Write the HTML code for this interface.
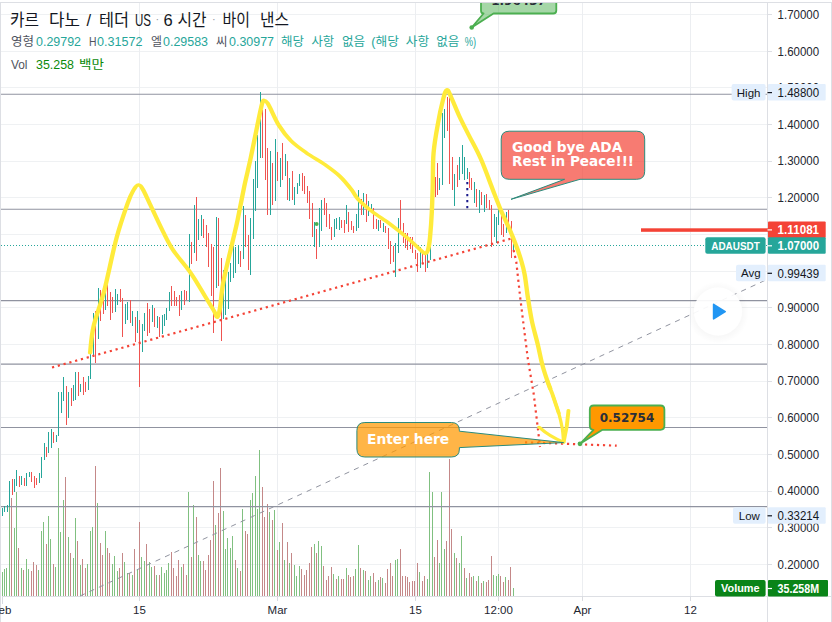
<!DOCTYPE html>
<html lang="ko"><head><meta charset="utf-8"><title>ADAUSDT chart</title>
<style>
html,body{margin:0;padding:0;background:#fff;}
body{width:832px;height:622px;overflow:hidden;position:relative;font-family:"Liberation Sans","Noto Sans CJK KR",sans-serif;}
svg{position:absolute;left:0;top:0;display:block}
.ax{font-family:"Liberation Sans","Noto Sans CJK KR",sans-serif;font-size:11.5px;fill:#23262f}
.lb{font-family:"Liberation Sans","Noto Sans CJK KR",sans-serif;font-size:11.5px}
.cb{font-family:"DejaVu Sans","Liberation Sans",sans-serif;font-weight:bold}
</style></head><body>
<svg width="832" height="622" viewBox="0 0 832 622">
<rect x="0" y="0" width="832" height="622" fill="#ffffff"/>
<g stroke="#eff1f3" stroke-width="1" shape-rendering="crispEdges">
<line x1="1" y1="14.5" x2="767" y2="14.5"/>
<line x1="1" y1="51.5" x2="767" y2="51.5"/>
<line x1="1" y1="87.5" x2="767" y2="87.5"/>
<line x1="1" y1="124.5" x2="767" y2="124.5"/>
<line x1="1" y1="161.5" x2="767" y2="161.5"/>
<line x1="1" y1="197.5" x2="767" y2="197.5"/>
<line x1="1" y1="234.5" x2="767" y2="234.5"/>
<line x1="1" y1="271.5" x2="767" y2="271.5"/>
<line x1="1" y1="307.5" x2="767" y2="307.5"/>
<line x1="1" y1="344.5" x2="767" y2="344.5"/>
<line x1="1" y1="381.5" x2="767" y2="381.5"/>
<line x1="1" y1="417.5" x2="767" y2="417.5"/>
<line x1="1" y1="454.5" x2="767" y2="454.5"/>
<line x1="1" y1="491.5" x2="767" y2="491.5"/>
<line x1="1" y1="527.5" x2="767" y2="527.5"/>
<line x1="1" y1="564.5" x2="767" y2="564.5"/>
<line x1="139.5" y1="2" x2="139.5" y2="596" stroke="#eceef1"/>
<line x1="277.5" y1="2" x2="277.5" y2="596" stroke="#eceef1"/>
<line x1="415.5" y1="2" x2="415.5" y2="596" stroke="#eceef1"/>
<line x1="498.5" y1="2" x2="498.5" y2="596" stroke="#eceef1"/>
<line x1="582.5" y1="2" x2="582.5" y2="596" stroke="#eceef1"/>
<line x1="690.5" y1="2" x2="690.5" y2="596" stroke="#eceef1"/>
</g>
<g stroke="#dddfe4" stroke-width="1" shape-rendering="crispEdges" fill="none">
<line x1="0" y1="2.5" x2="832" y2="2.5"/>
<line x1="0.5" y1="2" x2="0.5" y2="622"/>
<line x1="831.5" y1="2" x2="831.5" y2="622"/>
<line x1="767.5" y1="2" x2="767.5" y2="622"/>
<line x1="2" y1="596.5" x2="832" y2="596.5"/>
<line x1="768" y1="14.5" x2="772" y2="14.5"/>
<line x1="768" y1="51.5" x2="772" y2="51.5"/>
<line x1="768" y1="87.5" x2="772" y2="87.5"/>
<line x1="768" y1="124.5" x2="772" y2="124.5"/>
<line x1="768" y1="161.5" x2="772" y2="161.5"/>
<line x1="768" y1="197.5" x2="772" y2="197.5"/>
<line x1="768" y1="234.5" x2="772" y2="234.5"/>
<line x1="768" y1="271.5" x2="772" y2="271.5"/>
<line x1="768" y1="307.5" x2="772" y2="307.5"/>
<line x1="768" y1="344.5" x2="772" y2="344.5"/>
<line x1="768" y1="381.5" x2="772" y2="381.5"/>
<line x1="768" y1="417.5" x2="772" y2="417.5"/>
<line x1="768" y1="454.5" x2="772" y2="454.5"/>
<line x1="768" y1="491.5" x2="772" y2="491.5"/>
<line x1="768" y1="527.5" x2="772" y2="527.5"/>
<line x1="768" y1="564.5" x2="772" y2="564.5"/>
</g>
<g shape-rendering="crispEdges">
<rect x="2" y="572" width="1" height="24" fill="#80c080"/>
<rect x="4" y="569" width="1" height="27" fill="#80c080"/>
<rect x="6" y="568" width="1" height="28" fill="#80c080"/>
<rect x="9" y="495" width="1" height="101" fill="#80c080"/>
<rect x="11" y="498" width="1" height="98" fill="#c48888"/>
<rect x="14" y="528" width="1" height="68" fill="#80c080"/>
<rect x="16" y="492" width="1" height="104" fill="#80c080"/>
<rect x="18" y="548" width="1" height="48" fill="#c48888"/>
<rect x="21" y="568" width="1" height="28" fill="#80c080"/>
<rect x="23" y="570" width="1" height="26" fill="#c48888"/>
<rect x="26" y="559" width="1" height="37" fill="#80c080"/>
<rect x="28" y="569" width="1" height="27" fill="#80c080"/>
<rect x="31" y="571" width="1" height="25" fill="#c48888"/>
<rect x="33" y="562" width="1" height="34" fill="#c48888"/>
<rect x="36" y="565" width="1" height="31" fill="#c48888"/>
<rect x="38" y="570" width="1" height="26" fill="#80c080"/>
<rect x="41" y="531" width="1" height="65" fill="#80c080"/>
<rect x="43" y="522" width="1" height="74" fill="#80c080"/>
<rect x="46" y="544" width="1" height="52" fill="#c48888"/>
<rect x="48" y="516" width="1" height="80" fill="#80c080"/>
<rect x="50" y="539" width="1" height="57" fill="#80c080"/>
<rect x="53" y="564" width="1" height="32" fill="#c48888"/>
<rect x="55" y="567" width="1" height="29" fill="#80c080"/>
<rect x="58" y="448" width="1" height="148" fill="#80c080"/>
<rect x="60" y="532" width="1" height="64" fill="#80c080"/>
<rect x="63" y="500" width="1" height="96" fill="#80c080"/>
<rect x="65" y="477" width="1" height="119" fill="#c48888"/>
<rect x="68" y="537" width="1" height="59" fill="#80c080"/>
<rect x="70" y="553" width="1" height="43" fill="#c48888"/>
<rect x="73" y="558" width="1" height="38" fill="#80c080"/>
<rect x="75" y="518" width="1" height="78" fill="#80c080"/>
<rect x="77" y="541" width="1" height="55" fill="#c48888"/>
<rect x="80" y="565" width="1" height="31" fill="#80c080"/>
<rect x="82" y="559" width="1" height="37" fill="#c48888"/>
<rect x="85" y="568" width="1" height="28" fill="#c48888"/>
<rect x="87" y="564" width="1" height="32" fill="#80c080"/>
<rect x="90" y="531" width="1" height="65" fill="#80c080"/>
<rect x="92" y="527" width="1" height="69" fill="#80c080"/>
<rect x="95" y="466" width="1" height="130" fill="#c48888"/>
<rect x="97" y="503" width="1" height="93" fill="#80c080"/>
<rect x="100" y="543" width="1" height="53" fill="#c48888"/>
<rect x="102" y="555" width="1" height="41" fill="#c48888"/>
<rect x="105" y="531" width="1" height="65" fill="#80c080"/>
<rect x="107" y="548" width="1" height="48" fill="#c48888"/>
<rect x="109" y="553" width="1" height="43" fill="#c48888"/>
<rect x="112" y="564" width="1" height="32" fill="#80c080"/>
<rect x="114" y="556" width="1" height="40" fill="#80c080"/>
<rect x="117" y="571" width="1" height="25" fill="#80c080"/>
<rect x="119" y="568" width="1" height="28" fill="#c48888"/>
<rect x="122" y="553" width="1" height="43" fill="#c48888"/>
<rect x="124" y="562" width="1" height="34" fill="#80c080"/>
<rect x="127" y="573" width="1" height="23" fill="#80c080"/>
<rect x="129" y="573" width="1" height="23" fill="#c48888"/>
<rect x="132" y="575" width="1" height="21" fill="#80c080"/>
<rect x="134" y="549" width="1" height="47" fill="#c48888"/>
<rect x="137" y="570" width="1" height="26" fill="#80c080"/>
<rect x="139" y="522" width="1" height="74" fill="#c48888"/>
<rect x="141" y="557" width="1" height="39" fill="#80c080"/>
<rect x="144" y="561" width="1" height="35" fill="#80c080"/>
<rect x="146" y="544" width="1" height="52" fill="#c48888"/>
<rect x="149" y="562" width="1" height="34" fill="#80c080"/>
<rect x="151" y="567" width="1" height="29" fill="#80c080"/>
<rect x="154" y="566" width="1" height="30" fill="#c48888"/>
<rect x="156" y="575" width="1" height="21" fill="#80c080"/>
<rect x="159" y="575" width="1" height="21" fill="#c48888"/>
<rect x="161" y="567" width="1" height="29" fill="#80c080"/>
<rect x="164" y="573" width="1" height="23" fill="#80c080"/>
<rect x="166" y="570" width="1" height="26" fill="#80c080"/>
<rect x="168" y="563" width="1" height="33" fill="#80c080"/>
<rect x="171" y="552" width="1" height="44" fill="#c48888"/>
<rect x="173" y="568" width="1" height="28" fill="#c48888"/>
<rect x="176" y="576" width="1" height="20" fill="#c48888"/>
<rect x="178" y="560" width="1" height="36" fill="#c48888"/>
<rect x="181" y="567" width="1" height="29" fill="#80c080"/>
<rect x="183" y="564" width="1" height="32" fill="#c48888"/>
<rect x="186" y="575" width="1" height="21" fill="#c48888"/>
<rect x="188" y="492" width="1" height="104" fill="#80c080"/>
<rect x="191" y="557" width="1" height="39" fill="#c48888"/>
<rect x="193" y="505" width="1" height="91" fill="#80c080"/>
<rect x="196" y="517" width="1" height="79" fill="#c48888"/>
<rect x="198" y="555" width="1" height="41" fill="#80c080"/>
<rect x="200" y="561" width="1" height="35" fill="#80c080"/>
<rect x="203" y="561" width="1" height="35" fill="#c48888"/>
<rect x="205" y="570" width="1" height="26" fill="#c48888"/>
<rect x="208" y="555" width="1" height="41" fill="#c48888"/>
<rect x="210" y="540" width="1" height="56" fill="#c48888"/>
<rect x="213" y="481" width="1" height="115" fill="#c48888"/>
<rect x="215" y="525" width="1" height="71" fill="#80c080"/>
<rect x="218" y="513" width="1" height="83" fill="#c48888"/>
<rect x="220" y="468" width="1" height="128" fill="#c48888"/>
<rect x="223" y="511" width="1" height="85" fill="#80c080"/>
<rect x="225" y="549" width="1" height="47" fill="#80c080"/>
<rect x="227" y="538" width="1" height="58" fill="#80c080"/>
<rect x="230" y="548" width="1" height="48" fill="#80c080"/>
<rect x="232" y="536" width="1" height="60" fill="#80c080"/>
<rect x="235" y="560" width="1" height="36" fill="#c48888"/>
<rect x="237" y="568" width="1" height="28" fill="#80c080"/>
<rect x="240" y="571" width="1" height="25" fill="#c48888"/>
<rect x="242" y="509" width="1" height="87" fill="#80c080"/>
<rect x="245" y="531" width="1" height="65" fill="#c48888"/>
<rect x="247" y="534" width="1" height="62" fill="#c48888"/>
<rect x="250" y="500" width="1" height="96" fill="#80c080"/>
<rect x="252" y="493" width="1" height="103" fill="#80c080"/>
<rect x="255" y="476" width="1" height="120" fill="#80c080"/>
<rect x="257" y="509" width="1" height="87" fill="#80c080"/>
<rect x="259" y="450" width="1" height="146" fill="#80c080"/>
<rect x="262" y="487" width="1" height="109" fill="#c48888"/>
<rect x="264" y="517" width="1" height="79" fill="#c48888"/>
<rect x="267" y="504" width="1" height="92" fill="#c48888"/>
<rect x="269" y="512" width="1" height="84" fill="#80c080"/>
<rect x="272" y="520" width="1" height="76" fill="#c48888"/>
<rect x="274" y="510" width="1" height="86" fill="#80c080"/>
<rect x="277" y="550" width="1" height="46" fill="#c48888"/>
<rect x="279" y="542" width="1" height="54" fill="#80c080"/>
<rect x="282" y="523" width="1" height="73" fill="#c48888"/>
<rect x="284" y="560" width="1" height="36" fill="#80c080"/>
<rect x="287" y="542" width="1" height="54" fill="#c48888"/>
<rect x="289" y="563" width="1" height="33" fill="#80c080"/>
<rect x="291" y="553" width="1" height="43" fill="#c48888"/>
<rect x="294" y="565" width="1" height="31" fill="#80c080"/>
<rect x="296" y="576" width="1" height="20" fill="#80c080"/>
<rect x="299" y="566" width="1" height="30" fill="#80c080"/>
<rect x="301" y="569" width="1" height="27" fill="#c48888"/>
<rect x="304" y="575" width="1" height="21" fill="#c48888"/>
<rect x="306" y="570" width="1" height="26" fill="#c48888"/>
<rect x="309" y="563" width="1" height="33" fill="#c48888"/>
<rect x="311" y="547" width="1" height="49" fill="#c48888"/>
<rect x="314" y="544" width="1" height="52" fill="#80c080"/>
<rect x="316" y="553" width="1" height="43" fill="#c48888"/>
<rect x="318" y="541" width="1" height="55" fill="#80c080"/>
<rect x="321" y="546" width="1" height="50" fill="#80c080"/>
<rect x="323" y="566" width="1" height="30" fill="#c48888"/>
<rect x="326" y="580" width="1" height="16" fill="#c48888"/>
<rect x="328" y="576" width="1" height="20" fill="#c48888"/>
<rect x="331" y="567" width="1" height="29" fill="#c48888"/>
<rect x="333" y="574" width="1" height="22" fill="#80c080"/>
<rect x="336" y="579" width="1" height="17" fill="#c48888"/>
<rect x="338" y="576" width="1" height="20" fill="#80c080"/>
<rect x="341" y="579" width="1" height="17" fill="#c48888"/>
<rect x="343" y="579" width="1" height="17" fill="#c48888"/>
<rect x="346" y="568" width="1" height="28" fill="#80c080"/>
<rect x="348" y="575" width="1" height="21" fill="#c48888"/>
<rect x="350" y="577" width="1" height="19" fill="#c48888"/>
<rect x="353" y="576" width="1" height="20" fill="#c48888"/>
<rect x="355" y="569" width="1" height="27" fill="#80c080"/>
<rect x="358" y="545" width="1" height="51" fill="#80c080"/>
<rect x="360" y="568" width="1" height="28" fill="#c48888"/>
<rect x="363" y="570" width="1" height="26" fill="#80c080"/>
<rect x="365" y="571" width="1" height="25" fill="#c48888"/>
<rect x="368" y="580" width="1" height="16" fill="#80c080"/>
<rect x="370" y="576" width="1" height="20" fill="#80c080"/>
<rect x="373" y="573" width="1" height="23" fill="#c48888"/>
<rect x="375" y="582" width="1" height="14" fill="#c48888"/>
<rect x="378" y="580" width="1" height="16" fill="#80c080"/>
<rect x="380" y="577" width="1" height="19" fill="#c48888"/>
<rect x="382" y="578" width="1" height="18" fill="#80c080"/>
<rect x="385" y="583" width="1" height="13" fill="#c48888"/>
<rect x="387" y="569" width="1" height="27" fill="#c48888"/>
<rect x="390" y="563" width="1" height="33" fill="#c48888"/>
<rect x="392" y="576" width="1" height="20" fill="#c48888"/>
<rect x="395" y="560" width="1" height="36" fill="#80c080"/>
<rect x="397" y="559" width="1" height="37" fill="#80c080"/>
<rect x="400" y="549" width="1" height="47" fill="#c48888"/>
<rect x="402" y="576" width="1" height="20" fill="#c48888"/>
<rect x="405" y="576" width="1" height="20" fill="#c48888"/>
<rect x="407" y="577" width="1" height="19" fill="#c48888"/>
<rect x="409" y="582" width="1" height="14" fill="#c48888"/>
<rect x="412" y="581" width="1" height="15" fill="#c48888"/>
<rect x="414" y="581" width="1" height="15" fill="#c48888"/>
<rect x="417" y="563" width="1" height="33" fill="#c48888"/>
<rect x="419" y="572" width="1" height="24" fill="#80c080"/>
<rect x="422" y="581" width="1" height="15" fill="#c48888"/>
<rect x="424" y="576" width="1" height="20" fill="#c48888"/>
<rect x="427" y="579" width="1" height="17" fill="#80c080"/>
<rect x="429" y="472" width="1" height="124" fill="#80c080"/>
<rect x="432" y="492" width="1" height="104" fill="#80c080"/>
<rect x="434" y="557" width="1" height="39" fill="#c48888"/>
<rect x="437" y="540" width="1" height="56" fill="#c48888"/>
<rect x="439" y="563" width="1" height="33" fill="#80c080"/>
<rect x="441" y="492" width="1" height="104" fill="#80c080"/>
<rect x="444" y="549" width="1" height="47" fill="#80c080"/>
<rect x="446" y="541" width="1" height="55" fill="#c48888"/>
<rect x="449" y="459" width="1" height="137" fill="#c48888"/>
<rect x="451" y="529" width="1" height="67" fill="#c48888"/>
<rect x="454" y="553" width="1" height="43" fill="#80c080"/>
<rect x="456" y="558" width="1" height="38" fill="#c48888"/>
<rect x="459" y="563" width="1" height="33" fill="#80c080"/>
<rect x="461" y="536" width="1" height="60" fill="#80c080"/>
<rect x="464" y="568" width="1" height="28" fill="#c48888"/>
<rect x="466" y="578" width="1" height="18" fill="#80c080"/>
<rect x="469" y="573" width="1" height="23" fill="#c48888"/>
<rect x="471" y="577" width="1" height="19" fill="#c48888"/>
<rect x="473" y="576" width="1" height="20" fill="#80c080"/>
<rect x="476" y="581" width="1" height="15" fill="#c48888"/>
<rect x="478" y="576" width="1" height="20" fill="#80c080"/>
<rect x="481" y="583" width="1" height="13" fill="#c48888"/>
<rect x="483" y="581" width="1" height="15" fill="#80c080"/>
<rect x="486" y="582" width="1" height="14" fill="#c48888"/>
<rect x="488" y="580" width="1" height="16" fill="#c48888"/>
<rect x="491" y="556" width="1" height="40" fill="#c48888"/>
<rect x="493" y="575" width="1" height="21" fill="#80c080"/>
<rect x="496" y="576" width="1" height="20" fill="#80c080"/>
<rect x="498" y="574" width="1" height="22" fill="#80c080"/>
<rect x="500" y="576" width="1" height="20" fill="#c48888"/>
<rect x="503" y="582" width="1" height="14" fill="#c48888"/>
<rect x="505" y="577" width="1" height="19" fill="#80c080"/>
<rect x="508" y="580" width="1" height="16" fill="#c48888"/>
<rect x="510" y="567" width="1" height="29" fill="#c48888"/>
<rect x="513" y="588" width="1" height="8" fill="#80c080"/>
</g>
<g stroke="#9093a0" stroke-width="1.05" >
<line x1="1" y1="94.3" x2="767" y2="94.3"/>
<line x1="1" y1="209.3" x2="767" y2="209.3"/>
<line x1="1" y1="300.6" x2="767" y2="300.6"/>
<line x1="1" y1="364.1" x2="767" y2="364.1"/>
<line x1="1" y1="427.4" x2="767" y2="427.4"/>
<line x1="1" y1="506.6" x2="767" y2="506.6"/>
</g>
<line x1="1" y1="245.5" x2="767" y2="245.5" stroke="#26a69a" stroke-width="1" stroke-dasharray="1 2" shape-rendering="crispEdges"/>
<line x1="80" y1="596" x2="768" y2="279" stroke="#9194a0" stroke-width="1" stroke-dasharray="5.2 5.2"/>
<g shape-rendering="crispEdges">
<rect x="2" y="508" width="1" height="8" fill="#26a69a"/>
<rect x="4" y="506" width="1" height="6" fill="#26a69a"/>
<rect x="7" y="505" width="1" height="7" fill="#26a69a"/>
<rect x="9" y="481" width="1" height="26" fill="#26a69a"/>
<rect x="12" y="479" width="1" height="16" fill="#ef5350"/>
<rect x="14" y="479" width="1" height="13" fill="#26a69a"/>
<rect x="16" y="470" width="1" height="16" fill="#26a69a"/>
<rect x="19" y="476" width="1" height="11" fill="#ef5350"/>
<rect x="21" y="476" width="1" height="9" fill="#26a69a"/>
<rect x="24" y="478" width="1" height="8" fill="#ef5350"/>
<rect x="26" y="473" width="1" height="13" fill="#26a69a"/>
<rect x="29" y="472" width="1" height="5" fill="#26a69a"/>
<rect x="31" y="472" width="1" height="10" fill="#ef5350"/>
<rect x="34" y="476" width="1" height="12" fill="#ef5350"/>
<rect x="36" y="478" width="1" height="7" fill="#ef5350"/>
<rect x="39" y="473" width="1" height="10" fill="#26a69a"/>
<rect x="41" y="457" width="1" height="21" fill="#26a69a"/>
<rect x="44" y="443" width="1" height="17" fill="#26a69a"/>
<rect x="46" y="447" width="1" height="10" fill="#ef5350"/>
<rect x="48" y="432" width="1" height="21" fill="#26a69a"/>
<rect x="51" y="429" width="1" height="19" fill="#26a69a"/>
<rect x="53" y="432" width="1" height="11" fill="#ef5350"/>
<rect x="56" y="435" width="1" height="7" fill="#26a69a"/>
<rect x="58" y="392" width="1" height="44" fill="#26a69a"/>
<rect x="61" y="392" width="1" height="21" fill="#26a69a"/>
<rect x="63" y="377" width="1" height="24" fill="#26a69a"/>
<rect x="66" y="386" width="1" height="39" fill="#ef5350"/>
<rect x="68" y="392" width="1" height="26" fill="#26a69a"/>
<rect x="71" y="388" width="1" height="18" fill="#ef5350"/>
<rect x="73" y="385" width="1" height="16" fill="#26a69a"/>
<rect x="75" y="372" width="1" height="28" fill="#26a69a"/>
<rect x="78" y="372" width="1" height="24" fill="#ef5350"/>
<rect x="80" y="384" width="1" height="8" fill="#26a69a"/>
<rect x="83" y="377" width="1" height="18" fill="#ef5350"/>
<rect x="85" y="382" width="1" height="10" fill="#ef5350"/>
<rect x="88" y="376" width="1" height="14" fill="#26a69a"/>
<rect x="90" y="350" width="1" height="29" fill="#26a69a"/>
<rect x="93" y="313" width="1" height="44" fill="#26a69a"/>
<rect x="95" y="311" width="1" height="52" fill="#ef5350"/>
<rect x="98" y="288" width="1" height="51" fill="#26a69a"/>
<rect x="100" y="290" width="1" height="31" fill="#ef5350"/>
<rect x="103" y="295" width="1" height="19" fill="#ef5350"/>
<rect x="105" y="282" width="1" height="28" fill="#26a69a"/>
<rect x="107" y="281" width="1" height="25" fill="#ef5350"/>
<rect x="110" y="292" width="1" height="28" fill="#ef5350"/>
<rect x="112" y="297" width="1" height="16" fill="#ef5350"/>
<rect x="115" y="289" width="1" height="23" fill="#26a69a"/>
<rect x="117" y="294" width="1" height="11" fill="#26a69a"/>
<rect x="120" y="289" width="1" height="13" fill="#ef5350"/>
<rect x="122" y="298" width="1" height="39" fill="#ef5350"/>
<rect x="125" y="304" width="1" height="20" fill="#26a69a"/>
<rect x="127" y="302" width="1" height="18" fill="#26a69a"/>
<rect x="130" y="300" width="1" height="23" fill="#ef5350"/>
<rect x="132" y="311" width="1" height="15" fill="#26a69a"/>
<rect x="135" y="317" width="1" height="25" fill="#ef5350"/>
<rect x="137" y="311" width="1" height="22" fill="#26a69a"/>
<rect x="139" y="320" width="1" height="67" fill="#ef5350"/>
<rect x="142" y="324" width="1" height="28" fill="#26a69a"/>
<rect x="144" y="313" width="1" height="18" fill="#26a69a"/>
<rect x="147" y="303" width="1" height="33" fill="#ef5350"/>
<rect x="149" y="309" width="1" height="24" fill="#ef5350"/>
<rect x="152" y="305" width="1" height="17" fill="#26a69a"/>
<rect x="154" y="308" width="1" height="19" fill="#ef5350"/>
<rect x="157" y="316" width="1" height="12" fill="#26a69a"/>
<rect x="159" y="317" width="1" height="20" fill="#ef5350"/>
<rect x="162" y="315" width="1" height="19" fill="#26a69a"/>
<rect x="164" y="314" width="1" height="12" fill="#26a69a"/>
<rect x="166" y="308" width="1" height="12" fill="#26a69a"/>
<rect x="169" y="292" width="1" height="19" fill="#26a69a"/>
<rect x="171" y="286" width="1" height="20" fill="#ef5350"/>
<rect x="174" y="291" width="1" height="15" fill="#ef5350"/>
<rect x="176" y="297" width="1" height="9" fill="#ef5350"/>
<rect x="179" y="295" width="1" height="21" fill="#ef5350"/>
<rect x="181" y="291" width="1" height="19" fill="#26a69a"/>
<rect x="184" y="290" width="1" height="15" fill="#ef5350"/>
<rect x="186" y="291" width="1" height="9" fill="#ef5350"/>
<rect x="189" y="234" width="1" height="68" fill="#26a69a"/>
<rect x="191" y="242" width="1" height="22" fill="#ef5350"/>
<rect x="194" y="205" width="1" height="48" fill="#26a69a"/>
<rect x="196" y="197" width="1" height="64" fill="#ef5350"/>
<rect x="198" y="219" width="1" height="21" fill="#26a69a"/>
<rect x="201" y="215" width="1" height="21" fill="#26a69a"/>
<rect x="203" y="219" width="1" height="19" fill="#ef5350"/>
<rect x="206" y="225" width="1" height="22" fill="#ef5350"/>
<rect x="208" y="233" width="1" height="34" fill="#ef5350"/>
<rect x="211" y="244" width="1" height="52" fill="#ef5350"/>
<rect x="213" y="247" width="1" height="86" fill="#ef5350"/>
<rect x="216" y="217" width="1" height="71" fill="#26a69a"/>
<rect x="218" y="218" width="1" height="68" fill="#ef5350"/>
<rect x="221" y="258" width="1" height="83" fill="#ef5350"/>
<rect x="223" y="270" width="1" height="49" fill="#26a69a"/>
<rect x="225" y="277" width="1" height="38" fill="#26a69a"/>
<rect x="228" y="272" width="1" height="37" fill="#26a69a"/>
<rect x="230" y="263" width="1" height="19" fill="#26a69a"/>
<rect x="233" y="246" width="1" height="32" fill="#26a69a"/>
<rect x="235" y="247" width="1" height="26" fill="#26a69a"/>
<rect x="238" y="245" width="1" height="19" fill="#26a69a"/>
<rect x="240" y="251" width="1" height="16" fill="#ef5350"/>
<rect x="243" y="206" width="1" height="53" fill="#26a69a"/>
<rect x="245" y="215" width="1" height="32" fill="#ef5350"/>
<rect x="248" y="235" width="1" height="35" fill="#ef5350"/>
<rect x="250" y="218" width="1" height="57" fill="#26a69a"/>
<rect x="253" y="179" width="1" height="60" fill="#26a69a"/>
<rect x="255" y="161" width="1" height="50" fill="#26a69a"/>
<rect x="257" y="135" width="1" height="53" fill="#26a69a"/>
<rect x="260" y="92" width="1" height="66" fill="#26a69a"/>
<rect x="262" y="110" width="1" height="48" fill="#ef5350"/>
<rect x="265" y="109" width="1" height="71" fill="#ef5350"/>
<rect x="267" y="148" width="1" height="67" fill="#ef5350"/>
<rect x="270" y="151" width="1" height="64" fill="#26a69a"/>
<rect x="272" y="163" width="1" height="42" fill="#ef5350"/>
<rect x="275" y="139" width="1" height="62" fill="#26a69a"/>
<rect x="277" y="152" width="1" height="29" fill="#ef5350"/>
<rect x="280" y="158" width="1" height="29" fill="#26a69a"/>
<rect x="282" y="143" width="1" height="37" fill="#ef5350"/>
<rect x="285" y="154" width="1" height="22" fill="#26a69a"/>
<rect x="287" y="161" width="1" height="39" fill="#ef5350"/>
<rect x="289" y="178" width="1" height="23" fill="#26a69a"/>
<rect x="292" y="171" width="1" height="29" fill="#ef5350"/>
<rect x="294" y="187" width="1" height="18" fill="#26a69a"/>
<rect x="297" y="183" width="1" height="11" fill="#26a69a"/>
<rect x="299" y="174" width="1" height="12" fill="#26a69a"/>
<rect x="302" y="173" width="1" height="18" fill="#ef5350"/>
<rect x="304" y="176" width="1" height="18" fill="#ef5350"/>
<rect x="307" y="186" width="1" height="17" fill="#ef5350"/>
<rect x="309" y="191" width="1" height="28" fill="#ef5350"/>
<rect x="312" y="203" width="1" height="34" fill="#ef5350"/>
<rect x="314" y="222" width="1" height="25" fill="#26a69a"/>
<rect x="316" y="229" width="1" height="30" fill="#ef5350"/>
<rect x="319" y="208" width="1" height="39" fill="#26a69a"/>
<rect x="321" y="200" width="1" height="31" fill="#26a69a"/>
<rect x="324" y="198" width="1" height="17" fill="#ef5350"/>
<rect x="326" y="203" width="1" height="24" fill="#ef5350"/>
<rect x="329" y="214" width="1" height="15" fill="#ef5350"/>
<rect x="331" y="227" width="1" height="13" fill="#ef5350"/>
<rect x="334" y="219" width="1" height="18" fill="#26a69a"/>
<rect x="336" y="218" width="1" height="11" fill="#26a69a"/>
<rect x="339" y="217" width="1" height="13" fill="#26a69a"/>
<rect x="341" y="220" width="1" height="8" fill="#ef5350"/>
<rect x="344" y="220" width="1" height="13" fill="#ef5350"/>
<rect x="346" y="205" width="1" height="19" fill="#26a69a"/>
<rect x="348" y="212" width="1" height="20" fill="#ef5350"/>
<rect x="351" y="221" width="1" height="9" fill="#ef5350"/>
<rect x="353" y="226" width="1" height="7" fill="#ef5350"/>
<rect x="356" y="214" width="1" height="17" fill="#26a69a"/>
<rect x="358" y="190" width="1" height="38" fill="#26a69a"/>
<rect x="361" y="199" width="1" height="16" fill="#ef5350"/>
<rect x="363" y="193" width="1" height="22" fill="#26a69a"/>
<rect x="366" y="194" width="1" height="28" fill="#ef5350"/>
<rect x="368" y="201" width="1" height="15" fill="#26a69a"/>
<rect x="371" y="204" width="1" height="9" fill="#26a69a"/>
<rect x="373" y="208" width="1" height="21" fill="#ef5350"/>
<rect x="376" y="219" width="1" height="10" fill="#ef5350"/>
<rect x="378" y="220" width="1" height="11" fill="#26a69a"/>
<rect x="380" y="220" width="1" height="8" fill="#ef5350"/>
<rect x="383" y="223" width="1" height="9" fill="#26a69a"/>
<rect x="385" y="226" width="1" height="7" fill="#ef5350"/>
<rect x="388" y="228" width="1" height="21" fill="#ef5350"/>
<rect x="390" y="241" width="1" height="23" fill="#ef5350"/>
<rect x="393" y="246" width="1" height="16" fill="#ef5350"/>
<rect x="395" y="243" width="1" height="34" fill="#26a69a"/>
<rect x="398" y="218" width="1" height="35" fill="#26a69a"/>
<rect x="400" y="200" width="1" height="31" fill="#ef5350"/>
<rect x="403" y="223" width="1" height="20" fill="#ef5350"/>
<rect x="405" y="233" width="1" height="15" fill="#ef5350"/>
<rect x="407" y="233" width="1" height="17" fill="#ef5350"/>
<rect x="410" y="237" width="1" height="12" fill="#ef5350"/>
<rect x="412" y="237" width="1" height="16" fill="#ef5350"/>
<rect x="415" y="250" width="1" height="9" fill="#ef5350"/>
<rect x="417" y="253" width="1" height="19" fill="#ef5350"/>
<rect x="420" y="247" width="1" height="21" fill="#26a69a"/>
<rect x="422" y="253" width="1" height="11" fill="#ef5350"/>
<rect x="425" y="255" width="1" height="17" fill="#ef5350"/>
<rect x="427" y="253" width="1" height="15" fill="#26a69a"/>
<rect x="430" y="237" width="1" height="23" fill="#26a69a"/>
<rect x="432" y="183" width="1" height="29" fill="#26a69a"/>
<rect x="435" y="177" width="1" height="20" fill="#ef5350"/>
<rect x="437" y="163" width="1" height="32" fill="#ef5350"/>
<rect x="439" y="178" width="1" height="12" fill="#26a69a"/>
<rect x="442" y="113" width="1" height="72" fill="#26a69a"/>
<rect x="444" y="109" width="1" height="29" fill="#26a69a"/>
<rect x="447" y="97" width="1" height="34" fill="#ef5350"/>
<rect x="449" y="98" width="1" height="86" fill="#ef5350"/>
<rect x="452" y="157" width="1" height="33" fill="#ef5350"/>
<rect x="454" y="174" width="1" height="32" fill="#26a69a"/>
<rect x="457" y="165" width="1" height="22" fill="#ef5350"/>
<rect x="459" y="157" width="1" height="23" fill="#26a69a"/>
<rect x="462" y="145" width="1" height="29" fill="#26a69a"/>
<rect x="464" y="157" width="1" height="23" fill="#26a69a"/>
<rect x="467" y="168" width="1" height="11" fill="#26a69a"/>
<rect x="469" y="172" width="1" height="16" fill="#ef5350"/>
<rect x="471" y="178" width="1" height="12" fill="#ef5350"/>
<rect x="474" y="182" width="1" height="21" fill="#26a69a"/>
<rect x="476" y="189" width="1" height="18" fill="#ef5350"/>
<rect x="479" y="190" width="1" height="23" fill="#26a69a"/>
<rect x="481" y="192" width="1" height="13" fill="#ef5350"/>
<rect x="484" y="195" width="1" height="17" fill="#26a69a"/>
<rect x="486" y="194" width="1" height="14" fill="#ef5350"/>
<rect x="489" y="200" width="1" height="10" fill="#ef5350"/>
<rect x="491" y="205" width="1" height="42" fill="#ef5350"/>
<rect x="494" y="214" width="1" height="23" fill="#26a69a"/>
<rect x="496" y="217" width="1" height="26" fill="#26a69a"/>
<rect x="498" y="208" width="1" height="17" fill="#26a69a"/>
<rect x="501" y="215" width="1" height="20" fill="#ef5350"/>
<rect x="503" y="224" width="1" height="13" fill="#ef5350"/>
<rect x="506" y="212" width="1" height="21" fill="#26a69a"/>
<rect x="508" y="210" width="1" height="17" fill="#ef5350"/>
<rect x="511" y="221" width="1" height="37" fill="#ef5350"/>
<rect x="513" y="244" width="1" height="7" fill="#26a69a"/>
</g>
<g fill="none" stroke="#f44336" stroke-width="2.2" stroke-dasharray="2.2 3.8">
<path d="M52 367.5 L514.6 237.6"/>
<path d="M513.6 250 L516.3 262 L520.2 297.5 L524 328.4 L527.9 359.2 L533.7 394 L537.2 423 L540 447"/>
<path d="M525 442.3 L616.7 445.7"/>
</g>
<line x1="467.3" y1="182" x2="467.3" y2="209" stroke="#1a1a8c" stroke-width="2" stroke-dasharray="2.2 3.8"/>
<circle cx="316.6" cy="224" r="2" fill="#4caf50"/>
<rect x="641" y="228.3" width="127" height="3.5" fill="#f44336"/>
<g transform="scale(1,0.72)" fill="none" stroke="#ffeb3b" stroke-linecap="round" stroke-linejoin="round">
<path d="M90.1 490.0 C90.7 483.9 91.2 467.5 93.6 453.2 C95.9 438.9 100.4 424.5 104.2 404.0 C108.0 383.5 112.6 350.8 116.6 330.3 C120.6 309.8 125.2 292.2 128.0 281.1 C130.8 270.0 131.9 268.0 133.6 263.9 C135.3 259.8 136.8 256.9 138.3 256.7 C139.8 256.4 140.8 258.4 142.6 262.5 C144.4 266.6 145.9 271.5 149.2 281.1 C152.5 290.8 158.6 309.4 162.6 320.4 C166.6 331.5 168.5 337.7 173.2 347.5 C177.9 357.3 185.6 368.8 190.9 379.4 C196.2 390.1 201.2 402.6 205.0 411.4 C208.8 420.1 211.9 427.0 214.0 431.9 C216.1 436.9 216.4 441.5 217.4 440.8 C218.4 440.1 219.0 435.9 220.0 427.8 C221.0 419.6 221.3 406.9 223.3 391.9 C225.3 377.0 229.8 352.3 232.2 337.9 C234.6 323.5 235.6 318.7 237.6 305.6 C239.6 292.5 242.0 273.8 244.2 259.3 C246.4 244.9 248.7 232.7 250.8 218.9 C252.9 205.1 255.1 189.2 257.0 176.7 C258.9 164.2 260.8 150.1 262.1 143.9 C263.4 137.7 263.7 139.4 264.6 139.3 C265.5 139.2 266.5 141.1 267.5 143.1 C268.5 145.0 268.6 145.6 270.5 150.8 C272.4 156.0 275.6 166.9 279.0 174.3 C282.4 181.7 286.3 189.1 290.8 195.4 C295.3 201.7 300.4 206.5 306.0 211.9 C311.6 217.4 319.0 222.9 324.6 228.3 C330.2 233.8 335.3 238.9 339.8 244.7 C344.3 250.6 348.6 258.2 351.6 263.5 C354.6 268.8 354.6 271.5 358.0 276.5 C361.4 281.6 366.8 288.0 372.1 293.8 C377.4 299.5 383.9 304.8 389.8 311.0 C395.7 317.1 402.5 324.7 407.5 330.6 C412.5 336.5 417.1 342.8 420.0 346.4 C422.9 350.0 423.7 352.1 425.0 352.2 C426.3 352.4 427.2 350.9 428.0 347.2 C428.8 343.5 429.4 338.8 430.0 330.0 C430.6 321.2 431.4 306.5 431.8 294.7 C432.2 282.9 432.4 273.1 432.7 259.3 C433.0 245.5 432.7 226.5 433.6 211.9 C434.5 197.4 436.3 184.2 437.9 172.1 C439.4 160.0 441.4 147.1 442.9 139.2 C444.4 131.3 445.4 125.2 446.8 124.6 C448.2 124.0 449.4 129.7 451.4 135.7 C453.4 141.6 456.1 151.5 459.0 160.3 C461.9 169.1 465.4 178.3 469.1 188.5 C472.8 198.6 477.1 208.8 481.0 221.3 C484.9 233.8 489.5 251.6 492.8 263.5 C496.1 275.3 498.2 283.3 501.0 292.4 C503.8 301.5 506.9 309.8 509.5 318.1 C512.0 326.3 514.3 334.2 516.3 341.7 C518.3 349.1 520.0 356.1 521.4 362.8 C522.8 369.4 523.6 373.1 524.7 381.5 C525.8 389.9 526.7 402.6 527.9 413.2 C529.1 423.8 530.2 434.6 531.8 445.3 C533.4 456.0 535.8 467.2 537.6 477.5 C539.4 487.8 540.8 498.5 542.4 506.9 C544.0 515.4 545.9 522.9 547.2 528.3 C548.5 533.8 549.7 537.7 550.2 539.6" stroke-width="4.4"/>
<path d="M547.2 528.3 C547.7 530.2 549.2 536.0 550.2 539.6 C551.2 543.2 551.6 544.1 553.0 549.9 C554.4 555.6 557.8 570.0 558.8 574.0" stroke-width="3.9"/>
<path d="M553.0 549.9 C554.0 553.9 557.2 566.4 558.8 574.0 C560.3 581.6 561.5 588.7 562.3 595.4 C563.1 602.1 563.4 611.0 563.6 614.2" stroke-width="3.3"/>
<path d="M539.1 593.3 Q549.2 606.1 563.6 614.2 Q567.5 591.7 568.5 570.0" stroke-width="3.9"/>
</g>
<path d="M481 -6 H556.3 V10.5 Q556.3 13.5 553.3 13.5 H493.5 L471.7 27.5 L483.5 13.5 Q481 13.5 481 10.5 Z" fill="rgba(76,175,80,0.5)" stroke="#4caf50" stroke-width="1.8" stroke-linejoin="round"/>
<circle cx="471.7" cy="27.5" r="2.3" fill="#4caf50"/>
<text x="518.5" y="5" text-anchor="middle" class="cb" font-size="12" fill="#2a2e39">1.96437</text>
<rect x="440" y="-10" width="130" height="12" fill="#fff"/><line x1="440" y1="2.5" x2="570" y2="2.5" stroke="#d9dbe0" stroke-width="1" shape-rendering="crispEdges"/>
<path d="M509.2 131.2 H636.7 Q644.7 131.2 644.7 139.2 V171.3 Q644.7 179.3 636.7 179.3 H580 L511 199.3 L564.6 179.3 H509.2 Q501.2 179.3 501.2 171.3 V139.2 Q501.2 131.2 509.2 131.2 Z" fill="rgba(244,67,54,0.7)" stroke="#2b8b7c" stroke-width="1"/>
<text x="512" y="151.7" class="cb" font-size="13.3" fill="#fff" textLength="110.3" lengthAdjust="spacingAndGlyphs">Good bye ADA</text>
<text x="512" y="166" class="cb" font-size="13.3" fill="#fff" textLength="122" lengthAdjust="spacingAndGlyphs">Rest in Peace!!!</text>
<path d="M364.9 422.5 H451.4 Q459.4 422.5 459.4 430.5 V431.2 L563.6 442.6 L459.4 447.6 V449 Q459.4 457 451.4 457 H364.9 Q356.9 457 356.9 449 V430.5 Q356.9 422.5 364.9 422.5 Z" fill="rgba(255,152,0,0.72)" stroke="#2b8b7c" stroke-width="1"/>
<text x="367" y="444.3" class="cb" font-size="13.8" fill="#fff" textLength="82.2" lengthAdjust="spacingAndGlyphs">Enter here</text>
<path d="M593.8 405.5 H660.4 Q664.4 405.5 664.4 409.5 V425.8 Q664.4 429.8 660.4 429.8 H602.5 L580 443.8 L593.5 429.8 Q589.8 429.8 589.8 425.8 V409.5 Q589.8 405.5 593.8 405.5 Z" fill="#ff9800" stroke="#4caf50" stroke-width="1.8" stroke-linejoin="round"/>
<circle cx="580" cy="443.8" r="2.4" fill="#4caf50"/>
<text x="627" y="422" text-anchor="middle" class="cb" font-size="12.3" fill="#2a2e39" textLength="54.5" lengthAdjust="spacingAndGlyphs">0.52754</text>
<defs><radialGradient id="sh" cx="50%" cy="50%" r="50%"><stop offset="75%" stop-color="#000" stop-opacity="0.03"/><stop offset="100%" stop-color="#000" stop-opacity="0"/></radialGradient></defs>
<circle cx="718" cy="312.5" r="31" fill="url(#sh)"/>
<circle cx="718" cy="311.5" r="24.2" fill="#fff" fill-opacity="0.93"/>
<path d="M713.6 304.4 L725.2 311.6 L713.6 318.8 Z" fill="#2196f3" stroke="#2196f3" stroke-width="1.6" stroke-linejoin="round"/>
<text x="777.6" y="18.8" class="ax" font-size="12.6" style="font-size:12.6px" textLength="41.5" lengthAdjust="spacingAndGlyphs">1.70000</text>
<text x="777.6" y="55.5" class="ax" font-size="12.6" style="font-size:12.6px" textLength="41.5" lengthAdjust="spacingAndGlyphs">1.60000</text>
<text x="777.6" y="92.1" class="ax" font-size="12.6" style="font-size:12.6px" textLength="41.5" lengthAdjust="spacingAndGlyphs">1.50000</text>
<text x="777.6" y="128.8" class="ax" font-size="12.6" style="font-size:12.6px" textLength="41.5" lengthAdjust="spacingAndGlyphs">1.40000</text>
<text x="777.6" y="165.4" class="ax" font-size="12.6" style="font-size:12.6px" textLength="41.5" lengthAdjust="spacingAndGlyphs">1.30000</text>
<text x="777.6" y="202.1" class="ax" font-size="12.6" style="font-size:12.6px" textLength="41.5" lengthAdjust="spacingAndGlyphs">1.20000</text>
<text x="777.6" y="238.8" class="ax" font-size="12.6" style="font-size:12.6px" textLength="41.5" lengthAdjust="spacingAndGlyphs">1.10000</text>
<text x="777.6" y="275.4" class="ax" font-size="12.6" style="font-size:12.6px" textLength="41.5" lengthAdjust="spacingAndGlyphs">1.00000</text>
<text x="777.6" y="312.1" class="ax" font-size="12.6" style="font-size:12.6px" textLength="41.5" lengthAdjust="spacingAndGlyphs">0.90000</text>
<text x="777.6" y="348.7" class="ax" font-size="12.6" style="font-size:12.6px" textLength="41.5" lengthAdjust="spacingAndGlyphs">0.80000</text>
<text x="777.6" y="385.4" class="ax" font-size="12.6" style="font-size:12.6px" textLength="41.5" lengthAdjust="spacingAndGlyphs">0.70000</text>
<text x="777.6" y="422.1" class="ax" font-size="12.6" style="font-size:12.6px" textLength="41.5" lengthAdjust="spacingAndGlyphs">0.60000</text>
<text x="777.6" y="458.7" class="ax" font-size="12.6" style="font-size:12.6px" textLength="41.5" lengthAdjust="spacingAndGlyphs">0.50000</text>
<text x="777.6" y="495.4" class="ax" font-size="12.6" style="font-size:12.6px" textLength="41.5" lengthAdjust="spacingAndGlyphs">0.40000</text>
<text x="777.6" y="532.0" class="ax" font-size="12.6" style="font-size:12.6px" textLength="41.5" lengthAdjust="spacingAndGlyphs">0.30000</text>
<text x="777.6" y="568.7" class="ax" font-size="12.6" style="font-size:12.6px" textLength="41.5" lengthAdjust="spacingAndGlyphs">0.20000</text>
<rect x="768" y="84.1" width="57.7" height="16.5" fill="#e3effd" rx="1"/><rect x="731.6" y="84.1" width="34.0" height="16.5" fill="#e3effd" rx="2"/><text x="748.6" y="96.5" text-anchor="middle" class="lb" fill="#131722">High</text><line x1="767.5" y1="92.6" x2="772" y2="92.6" stroke="#131722" stroke-width="1.2"/><text x="777.6" y="96.8" class="lb" style="font-size:12.6px" fill="#131722" textLength="41.5" lengthAdjust="spacingAndGlyphs">1.48800</text>
<rect x="768" y="221.4" width="57.7" height="16.5" fill="#f44336" rx="1"/><line x1="767.5" y1="229.9" x2="772" y2="229.9" stroke="#ffffff" stroke-width="1.2"/><text x="777.6" y="234.1" class="lb" style="font-size:12.6px" font-weight="bold" fill="#ffffff" textLength="41.5" lengthAdjust="spacingAndGlyphs">1.11081</text>
<rect x="768" y="237.3" width="57.7" height="16.5" fill="#26a69a" rx="1"/><rect x="705.3" y="237.3" width="60.3" height="16.5" fill="#26a69a" rx="2"/><text x="735.5" y="249.7" text-anchor="middle" class="lb" font-weight="bold" fill="#ffffff" textLength="48.5" lengthAdjust="spacingAndGlyphs">ADAUSDT</text><line x1="767.5" y1="245.8" x2="772" y2="245.8" stroke="#ffffff" stroke-width="1.2"/><text x="777.6" y="250.0" class="lb" style="font-size:12.6px" font-weight="bold" fill="#ffffff" textLength="41.5" lengthAdjust="spacingAndGlyphs">1.07000</text>
<rect x="768" y="264.8" width="57.7" height="16.5" fill="#e3effd" rx="1"/><rect x="736" y="264.8" width="29.6" height="16.5" fill="#e3effd" rx="2"/><text x="750.8" y="277.2" text-anchor="middle" class="lb" fill="#131722">Avg</text><line x1="767.5" y1="273.3" x2="772" y2="273.3" stroke="#131722" stroke-width="1.2"/><text x="777.6" y="277.5" class="lb" style="font-size:12.6px" fill="#131722" textLength="41.5" lengthAdjust="spacingAndGlyphs">0.99439</text>
<rect x="768" y="507.3" width="57.7" height="16.5" fill="#e3effd" rx="1"/><rect x="733" y="507.3" width="32.6" height="16.5" fill="#e3effd" rx="2"/><text x="749.3" y="519.7" text-anchor="middle" class="lb" fill="#131722">Low</text><line x1="767.5" y1="515.8" x2="772" y2="515.8" stroke="#131722" stroke-width="1.2"/><text x="777.6" y="520.0" class="lb" style="font-size:12.6px" fill="#131722" textLength="41.5" lengthAdjust="spacingAndGlyphs">0.33214</text>
<rect x="768" y="580.0" width="60" height="16.5" fill="#0a8418" rx="1"/><rect x="715" y="580.0" width="50.6" height="16.5" fill="#0a8418" rx="2"/><text x="740.3" y="592.4" text-anchor="middle" class="lb" font-weight="bold" fill="#ffffff" textLength="38.5" lengthAdjust="spacingAndGlyphs">Volume</text><line x1="767.5" y1="588.5" x2="772" y2="588.5" stroke="#ffffff" stroke-width="1.2"/><text x="777.6" y="592.7" class="lb" style="font-size:12.6px" font-weight="bold" fill="#ffffff" textLength="41.5" lengthAdjust="spacingAndGlyphs">35.258M</text>
<text x="11.4" y="613.7" text-anchor="end" class="ax">Feb</text>
<line x1="139.5" y1="596" x2="139.5" y2="601" stroke="#d9dbe0" stroke-width="1" shape-rendering="crispEdges"/>
<text x="139.5" y="613.7" text-anchor="middle" class="ax">15</text>
<line x1="277.5" y1="596" x2="277.5" y2="601" stroke="#d9dbe0" stroke-width="1" shape-rendering="crispEdges"/>
<text x="277.5" y="613.7" text-anchor="middle" class="ax">Mar</text>
<line x1="415.5" y1="596" x2="415.5" y2="601" stroke="#d9dbe0" stroke-width="1" shape-rendering="crispEdges"/>
<text x="415.5" y="613.7" text-anchor="middle" class="ax">15</text>
<line x1="498.5" y1="596" x2="498.5" y2="601" stroke="#d9dbe0" stroke-width="1" shape-rendering="crispEdges"/>
<text x="498.5" y="613.7" text-anchor="middle" class="ax">12:00</text>
<line x1="582.5" y1="596" x2="582.5" y2="601" stroke="#d9dbe0" stroke-width="1" shape-rendering="crispEdges"/>
<text x="582.5" y="613.7" text-anchor="middle" class="ax">Apr</text>
<line x1="690.5" y1="596" x2="690.5" y2="601" stroke="#d9dbe0" stroke-width="1" shape-rendering="crispEdges"/>
<text x="690.5" y="613.7" text-anchor="middle" class="ax">12</text>
<line x1="2.5" y1="596" x2="2.5" y2="604" stroke="#d9dbe0" stroke-width="1" shape-rendering="crispEdges"/>
<g font-family="'Liberation Sans','Noto Sans CJK KR',sans-serif">
<text x="10" y="25.5" font-size="16.5" fill="#131722" textLength="29" lengthAdjust="spacingAndGlyphs">카르</text>
<text x="49" y="25.5" font-size="16.5" fill="#131722" textLength="31" lengthAdjust="spacingAndGlyphs">다노</text>
<text x="86.5" y="25.5" font-size="16.5" fill="#131722">/</text>
<text x="99" y="25.5" font-size="16.5" fill="#131722" textLength="30" lengthAdjust="spacingAndGlyphs">테더</text>
<text x="135" y="25.5" font-size="16.5" fill="#131722" textLength="16" lengthAdjust="spacingAndGlyphs">US</text>
<text x="163.5" y="25.5" font-size="16.5" fill="#131722">6</text>
<text x="177.5" y="25.5" font-size="16.5" fill="#131722" textLength="29" lengthAdjust="spacingAndGlyphs">시간</text>
<text x="222.5" y="25.5" font-size="16.5" fill="#131722" textLength="27.5" lengthAdjust="spacingAndGlyphs">바이</text>
<text x="260" y="25.5" font-size="16.5" fill="#131722" textLength="29" lengthAdjust="spacingAndGlyphs">낸스</text>
<text x="155.5" y="22.5" font-size="11" fill="#9598a1">·</text>
<text x="212" y="22.5" font-size="11" fill="#9598a1">·</text>
<text x="11" y="46" font-size="12.5" fill="#50535e" textLength="23" lengthAdjust="spacingAndGlyphs">영형</text>
<text x="36" y="46" font-size="12.5" fill="#26a69a" textLength="45" lengthAdjust="spacingAndGlyphs">0.29792</text>
<text x="89" y="46" font-size="12.5" fill="#50535e" textLength="7.5" lengthAdjust="spacingAndGlyphs">H</text>
<text x="97" y="46" font-size="12.5" fill="#26a69a" textLength="45.5" lengthAdjust="spacingAndGlyphs">0.31572</text>
<text x="151" y="46" font-size="12.5" fill="#50535e" textLength="11" lengthAdjust="spacingAndGlyphs">엘</text>
<text x="163" y="46" font-size="12.5" fill="#26a69a" textLength="45" lengthAdjust="spacingAndGlyphs">0.29583</text>
<text x="216" y="46" font-size="12.5" fill="#50535e" textLength="11.5" lengthAdjust="spacingAndGlyphs">씨</text>
<text x="229" y="46" font-size="12.5" fill="#26a69a" textLength="45" lengthAdjust="spacingAndGlyphs">0.30977</text>
<text x="281" y="46" font-size="12.5" fill="#26a69a" textLength="23" lengthAdjust="spacingAndGlyphs">해당</text>
<text x="311.4" y="46" font-size="12.5" fill="#26a69a" textLength="22.7" lengthAdjust="spacingAndGlyphs">사항</text>
<text x="341.9" y="46" font-size="12.5" fill="#26a69a" textLength="23.1" lengthAdjust="spacingAndGlyphs">없음</text>
<text x="371.3" y="46" font-size="12.5" fill="#26a69a" textLength="27.7" lengthAdjust="spacingAndGlyphs">(해당</text>
<text x="405.8" y="46" font-size="12.5" fill="#26a69a" textLength="23.4" lengthAdjust="spacingAndGlyphs">사항</text>
<text x="436.3" y="46" font-size="12.5" fill="#26a69a" textLength="23.1" lengthAdjust="spacingAndGlyphs">없음</text>
<text x="464.8" y="46" font-size="12.5" fill="#26a69a" textLength="11.4" lengthAdjust="spacingAndGlyphs">%)</text>
<text x="11" y="69" font-size="12.5" fill="#50535e" textLength="16.5" lengthAdjust="spacingAndGlyphs">Vol</text>
<text x="36" y="69" font-size="12.5" fill="#0a8a0a" textLength="38" lengthAdjust="spacingAndGlyphs">35.258</text>
<text x="79" y="69" font-size="12.5" fill="#0a8a0a" textLength="25" lengthAdjust="spacingAndGlyphs">백만</text>
</g>
</svg>
</body></html>
